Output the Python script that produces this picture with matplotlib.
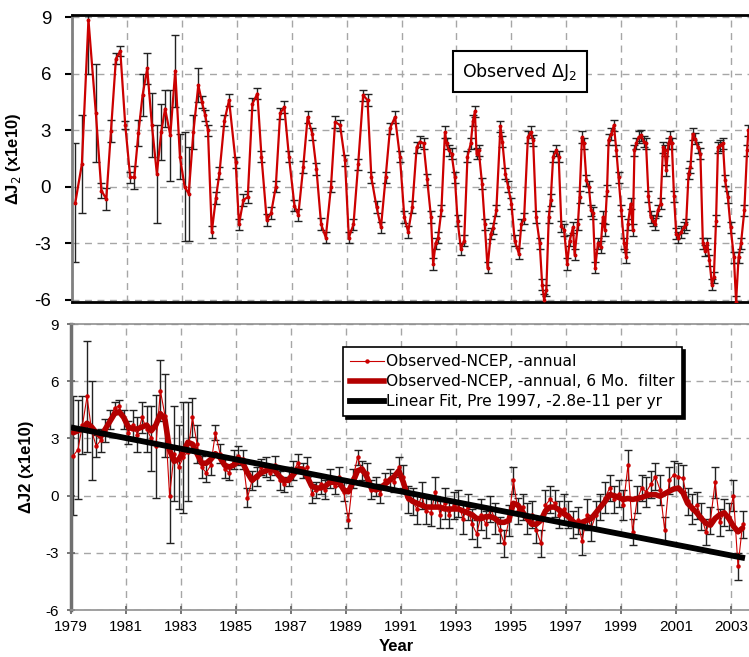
import numpy as np
import matplotlib
matplotlib.use('Agg')
import matplotlib.pyplot as plt
from matplotlib.lines import Line2D

plt.rcParams['font.family'] = ['Liberation Sans', 'DejaVu Sans']
plt.rcParams['axes.unicode_minus'] = False

# ---------------- data: top panel (Observed dJ2) ----------------
top_years = [1979.12, 1979.36, 1979.60, 1979.87, 1980.07, 1980.25, 1980.42, 1980.60, 1980.76, 1980.94,
             1981.12, 1981.27, 1981.42, 1981.57, 1981.74, 1981.91, 1982.09, 1982.25, 1982.39, 1982.58,
             1982.76, 1982.93, 1983.10, 1983.25, 1983.42, 1983.60, 1983.73, 1983.85, 1983.95, 1984.09,
             1984.24, 1984.37, 1984.55, 1984.72, 1984.96, 1985.08, 1985.24, 1985.40, 1985.57, 1985.75,
             1985.90, 1986.09, 1986.25, 1986.42, 1986.58, 1986.73, 1986.90, 1987.10, 1987.24, 1987.42,
             1987.58, 1987.75, 1987.90, 1988.07, 1988.24, 1988.43, 1988.58, 1988.76, 1988.94, 1989.08,
             1989.25, 1989.42, 1989.60, 1989.76, 1989.90, 1990.09, 1990.25, 1990.42, 1990.58, 1990.76,
             1990.94, 1991.10, 1991.24, 1991.39, 1991.55, 1991.67, 1991.80, 1991.93, 1992.07, 1992.15,
             1992.24, 1992.33, 1992.45, 1992.58, 1992.64, 1992.72, 1992.82, 1992.94, 1993.04, 1993.16,
             1993.28, 1993.40, 1993.52, 1993.60, 1993.67, 1993.73, 1993.81, 1993.93, 1994.03, 1994.13,
             1994.25, 1994.33, 1994.45, 1994.60, 1994.67, 1994.78, 1994.88, 1995.00, 1995.12, 1995.27,
             1995.36, 1995.46, 1995.60, 1995.70, 1995.79, 1995.90, 1996.03, 1996.12, 1996.19, 1996.27,
             1996.36, 1996.43, 1996.52, 1996.64, 1996.72, 1996.82, 1996.92, 1997.03, 1997.12, 1997.24,
             1997.30, 1997.42, 1997.48, 1997.57, 1997.64, 1997.73, 1997.82, 1997.90, 1997.97, 1998.05,
             1998.15, 1998.25, 1998.33, 1998.40, 1998.48, 1998.54, 1998.64, 1998.73, 1998.82, 1998.90,
             1999.00, 1999.10, 1999.18, 1999.24, 1999.34, 1999.42, 1999.48, 1999.55, 1999.63, 1999.73,
             1999.82, 1999.90, 1999.99, 2000.07, 2000.15, 2000.24, 2000.33, 2000.43, 2000.52, 2000.58,
             2000.64, 2000.72, 2000.79, 2000.84, 2000.92, 2001.00, 2001.08, 2001.18, 2001.28, 2001.36,
             2001.45, 2001.52, 2001.60, 2001.69, 2001.79, 2001.88, 2001.97, 2002.05, 2002.13, 2002.21,
             2002.30, 2002.37, 2002.45, 2002.52, 2002.61, 2002.70, 2002.78, 2002.88, 2002.98, 2003.10,
             2003.18, 2003.27, 2003.36, 2003.48, 2003.58, 2003.63]
top_vals = [-0.85, 1.2, 8.86, 3.9, -0.2, -0.65, 2.96, 6.8, 7.2, 3.27,
            0.5, 0.5, 2.86, 4.86, 6.28, 3.27, 0.7, 2.9, 4.15, 2.73,
            6.16, 1.6, 0.0, -0.37, 2.9, 5.4, 4.5, 3.8, 3.0, -2.4,
            -0.6, 0.73, 3.5, 4.6, 1.3, -2.0, -0.7, -0.55, 4.4, 4.95,
            1.6, -1.76, -1.4, 0.0, 3.9, 4.24, 1.6, -1.0, -1.5, 1.05,
            3.7, 2.8, 0.95, -1.97, -2.7, 0.0, 3.44, 3.27, 1.4, -2.7,
            -2.0, 1.2, 4.86, 4.6, 0.5, -1.08, -2.15, 0.5, 3.1, 3.7,
            1.6, -1.6, -2.4, -1.08, 2.1, 2.4, 2.3, 0.4, -1.6, -4.1,
            -3.0, -2.7, -1.26, 2.9, 2.3, 1.93, 1.76, 0.5, -1.8, -3.3,
            -2.86, 1.6, 2.3, 3.5, 4.0, 1.76, 1.93, 0.17, -2.0, -4.3,
            -2.5, -2.2, -1.26, 3.2, 2.4, 0.7, 0.0, -0.9, -2.86, -3.56,
            -2.0, -1.7, 2.64, 2.9, 2.47, -1.6, -3.0, -5.2, -6.0, -5.5,
            -1.6, -0.7, 1.6, 1.93, 1.6, -2.1, -2.3, -4.1, -2.86, -2.15,
            -3.6, -2.0, -0.55, 2.64, 2.3, 0.34, 0.0, -1.26, -1.4, -4.3,
            -3.0, -3.2, -1.6, -2.3, -0.2, 2.5, 2.8, 3.27, 1.93, 0.5,
            -1.26, -3.0, -3.75, -2.0, -0.9, -2.3, 1.93, 2.3, 2.64, 2.73,
            2.4, 2.3, -0.5, -1.6, -1.8, -1.97, -1.26, -0.9, 2.1, 1.93,
            0.87, 2.3, 2.64, 2.3, -0.5, -2.5, -2.7, -2.4, -2.15, -2.0,
            0.7, 1.05, 2.8, 2.55, 2.1, 1.76, -3.0, -3.4, -3.0, -3.9,
            -5.2, -4.8, -1.8, 2.1, 2.2, 2.3, 0.34, -0.55, -2.15, -3.75,
            -6.1, -3.75, -3.0, -1.26, 1.93, 3.0]
top_err_early = [3.15, 2.6, 2.9, 2.6, 0.4, 0.6, 0.6, 0.3, 0.25, 0.2,
                 0.3, 0.6, 0.7, 1.1, 0.8, 1.7, 2.6, 1.5, 1.0, 2.4,
                 1.9, 1.2, 2.9, 2.5, 0.9, 0.9]
top_err = top_err_early + [0.3] * (len(top_years) - len(top_err_early))

# ---------------- data: bottom panel (Observed - NCEP) ----------------
ncep_row_years = list(range(1979, 2004))
ncep_raw = [
    [2.1, 2.4, 3.7, 5.2, 3.4, 2.6],
    [2.9, 3.4, 4.0, 4.6, 4.7, 4.0],
    [3.3, 3.7, 3.2, 4.1, 3.5, 3.0],
    [2.6, 5.5, 4.2, 0.0, 2.2, 1.5],
    [2.0, 2.3, 4.1, 2.7, 1.5, 1.2],
    [1.6, 3.3, 2.2, 1.4, 1.2, 1.9],
    [2.1, 1.9, -0.1, 0.8, 1.0, 1.5],
    [1.5, 1.2, 1.6, 0.8, 0.6, 1.0],
    [1.3, 1.7, 1.3, 1.5, 0.1, 0.3],
    [0.6, 0.3, 0.9, 0.5, 1.0, 0.2],
    [-1.3, 0.9, 2.0, 1.3, 1.2, 0.3],
    [0.5, 0.1, 0.8, 0.9, 0.7, 1.5],
    [1.0, -0.2, -0.3, -0.7, 0.0, -0.8],
    [-0.9, 0.2, -1.0, -0.4, -1.0, -0.5],
    [-0.4, -1.2, -0.6, -1.5, -2.0, -1.0],
    [-1.5, -0.7, -1.2, -1.8, -2.5, -1.3],
    [0.8, -0.8, -0.6, -1.2, -1.0, -1.8],
    [-2.5, -0.5, -0.2, -0.4, -1.0, -0.7],
    [-1.0, -1.5, -1.3, -2.4, -1.0, -1.7],
    [-1.0, -0.6, -0.1, 0.4, -0.2, 0.1],
    [-0.5, 1.6, -1.9, -0.2, 0.4, 0.2],
    [0.6, 1.0, 0.3, -1.8, 0.8, 1.1],
    [1.0, 0.9, -0.3, -0.7, -0.5, -1.1],
    [-1.9, -1.3, 0.7, -1.4, -0.9, -1.1],
    [0.0, -3.7, -1.5],
]
ncep_filt = [
    [3.3, 3.4, 3.5, 3.8, 3.6, 3.3],
    [3.1, 3.5, 3.9, 4.3, 4.4, 4.1],
    [3.6, 3.5, 3.5, 3.6, 3.7, 3.4],
    [3.7, 4.3, 4.0, 2.4, 1.8, 1.9],
    [2.3, 2.8, 2.7, 2.2, 1.7, 1.7],
    [1.9, 2.2, 2.0, 1.6, 1.5, 1.6],
    [1.8, 1.7, 1.2, 0.8, 1.0, 1.2],
    [1.3, 1.4, 1.3, 1.0, 0.8, 0.8],
    [1.1, 1.4, 1.4, 1.0, 0.5, 0.4],
    [0.4, 0.5, 0.7, 0.7, 0.7, 0.3],
    [0.2, 0.7, 1.3, 1.4, 1.0, 0.4],
    [0.3, 0.4, 0.6, 0.8, 1.0, 1.3],
    [0.7, -0.1, -0.3, -0.4, -0.5, -0.6],
    [-0.6, -0.6, -0.6, -0.7, -0.7, -0.7],
    [-0.7, -0.8, -0.9, -1.0, -1.2, -1.2],
    [-1.1, -1.1, -1.2, -1.4, -1.4, -1.3],
    [-0.4, -0.5, -0.85, -1.2, -1.5, -1.5],
    [-1.3, -0.8, -0.6, -0.6, -0.75, -0.95],
    [-1.1, -1.35, -1.55, -1.4, -1.3, -1.2],
    [-0.9, -0.6, -0.3, 0.05, 0.0, -0.1],
    [-0.2, -0.15, -0.2, -0.15, -0.1, 0.0],
    [0.05, 0.05, -0.03, 0.1, 0.23, 0.35],
    [0.4, 0.15, -0.4, -0.65, -0.9, -1.2],
    [-1.45, -1.55, -1.2, -1.0, -0.9, -1.2],
    [-1.6, -1.9, -1.7],
]
ncep_err = [
    [3.1, 2.6, 1.5, 2.9, 2.6, 0.6],
    [0.6, 0.6, 0.5, 0.3, 0.3, 0.5],
    [0.6, 0.8, 0.9, 0.8, 1.2, 1.7],
    [2.7, 1.6, 2.2, 2.5, 2.5, 2.2],
    [2.9, 2.6, 1.0, 1.0, 0.6, 0.5],
    [0.5, 0.4, 0.5, 0.5, 0.4, 0.5],
    [0.5, 0.5, 0.5, 0.5, 0.5, 0.4],
    [0.5, 0.4, 0.5, 0.5, 0.4, 0.5],
    [0.5, 0.5, 0.4, 0.5, 0.5, 0.4],
    [0.5, 0.5, 0.5, 0.4, 0.5, 0.5],
    [0.4, 0.5, 0.4, 0.5, 0.5, 0.5],
    [0.5, 0.5, 0.4, 0.5, 0.5, 0.5],
    [0.6, 0.7, 0.7, 0.8, 0.7, 0.7],
    [0.7, 0.8, 0.7, 0.8, 0.7, 0.7],
    [0.7, 0.8, 0.7, 0.8, 0.7, 0.8],
    [0.7, 0.7, 0.8, 0.7, 0.7, 0.8],
    [0.7, 0.7, 0.7, 0.8, 0.7, 0.7],
    [0.7, 0.8, 0.7, 0.7, 0.7, 0.8],
    [0.7, 0.7, 0.7, 0.7, 0.8, 0.7],
    [0.7, 0.7, 0.8, 0.7, 0.7, 0.7],
    [0.8, 0.8, 0.7, 0.7, 0.7, 0.8],
    [0.7, 0.7, 0.8, 0.7, 0.7, 0.7],
    [0.7, 0.7, 0.7, 0.8, 0.7, 0.7],
    [0.7, 0.7, 0.8, 0.7, 0.7, 0.7],
    [0.8, 0.7, 0.7],
]
fit_years = [1979.1, 2003.4]
fit_vals = [3.55, -3.25]

yticks = [-6, -3, 0, 3, 6, 9]
xticks = list(range(1979, 2004, 2))

# flatten bimonthly rows
nb_t, nb_raw, nb_f, nb_e = [], [], [], []
for yr, rr, ff, ee in zip(ncep_row_years, ncep_raw, ncep_filt, ncep_err):
    for k in range(len(rr)):
        nb_t.append(yr + (k + 0.5) / 6.0)
        nb_raw.append(rr[k]); nb_f.append(ff[k]); nb_e.append(ee[k])

RED = '#cc0000'
DRED = '#b30000'
GRID = '#a6a6a6'

fig = plt.figure(figsize=(7.49, 6.57), dpi=100)
ax1 = fig.add_axes([0.0961, 0.5403, 0.9039, 0.4369])
ax2 = fig.add_axes([0.0948, 0.0715, 0.9052, 0.4353])

# ---- top ----
ax1.errorbar(top_years, top_vals, yerr=top_err, fmt='none', ecolor='#222222',
             elinewidth=1.0, capsize=3, capthick=1.0, zorder=2)
ax1.plot(top_years, top_vals, '-', color=RED, lw=1.6, marker='o', ms=1.8,
         mfc=RED, mec=RED, zorder=3)
ax1.set_xlim(1979, 2003.65)
ax1.set_ylim(-6.12, 9.12)
ax1.set_yticks(yticks)
ax1.set_xticks(xticks)
ax1.tick_params(axis='x', length=0, labelbottom=False)
ax1.tick_params(axis='y', length=5, width=1.5, color='black', labelsize=13.5, pad=10)
ax1.grid(True, ls=(0, (5, 4)), color=GRID, lw=1)
ax1.set_axisbelow(True)
ax1.spines['right'].set_visible(False)
for s in ['top', 'bottom']:
    ax1.spines[s].set_color('black'); ax1.spines[s].set_linewidth(2)
ax1.spines['left'].set_color('#808080'); ax1.spines['left'].set_linewidth(2)
ax1.set_ylabel('ΔJ$_2$ (x1e10)', fontsize=12, fontweight='bold', labelpad=8)
ax1.text(1995.3, 6.1, 'Observed ΔJ$_2$', fontsize=12.5, ha='center', va='center',
         family=['DejaVu Sans'],
         bbox=dict(boxstyle='square,pad=0.55', fc='white', ec='black', lw=1.5), zorder=5)

# ---- bottom ----
ax2.errorbar(nb_t, nb_raw, yerr=nb_e, fmt='none', ecolor='#222222',
             elinewidth=1.0, capsize=3, capthick=1.0, zorder=2)
ax2.plot(nb_t, nb_raw, '-', color=RED, lw=0.8, marker='o', ms=2.2,
         mfc=RED, mec=RED, zorder=3)
ax2.plot(nb_t, nb_f, '-', color=DRED, lw=4, solid_capstyle='round', zorder=4)
ax2.plot(fit_years, fit_vals, '-', color='black', lw=4.2, zorder=5)
ax2.set_xlim(1979, 2003.65)
ax2.set_ylim(-6, 9)
ax2.set_yticks(yticks)
ax2.set_xticks(xticks)
ax2.tick_params(axis='both', direction='inout', length=6, width=1.2, color='#606060',
                labelsize=11)
ax2.tick_params(axis='y', pad=6)
ax2.tick_params(axis='x', pad=4)
ax2.grid(True, ls=(0, (5, 4)), color=GRID, lw=1)
ax2.set_axisbelow(True)
ax2.spines['right'].set_visible(False)
for s in ['top', 'bottom']:
    ax2.spines[s].set_color('#909090'); ax2.spines[s].set_linewidth(1.2)
ax2.spines['left'].set_color('#707070'); ax2.spines['left'].set_linewidth(2.5)
ax2.set_ylabel('ΔJ2 (x1e10)', fontsize=12, fontweight='bold', labelpad=8)
ax2.set_xlabel('Year', fontsize=12, fontweight='bold', labelpad=4, x=0.48)

handles = [
    Line2D([], [], color=RED, lw=0.8, marker='o', ms=2.2),
    Line2D([], [], color=DRED, lw=4),
    Line2D([], [], color='black', lw=4.2),
]
labels = ['Observed-NCEP, -annual', 'Observed-NCEP, -annual, 6 Mo.  filter',
          'Linear Fit, Pre 1997, -2.8e-11 per yr']
leg = ax2.legend(handles, labels, loc='upper left', bbox_to_anchor=(0.401, 0.918),
                 prop={'family': 'DejaVu Sans', 'size': 11.2}, frameon=True,
                 fancybox=False, handlelength=2.2, handletextpad=0.15,
                 labelspacing=0.32, borderpad=0.45, borderaxespad=0.0,
                 shadow={'color': 'black', 'alpha': 1.0})
leg.get_frame().set_edgecolor('black')
leg.get_frame().set_linewidth(1.2)
leg.set_zorder(10)

fig.savefig('out.png', dpi=100)
